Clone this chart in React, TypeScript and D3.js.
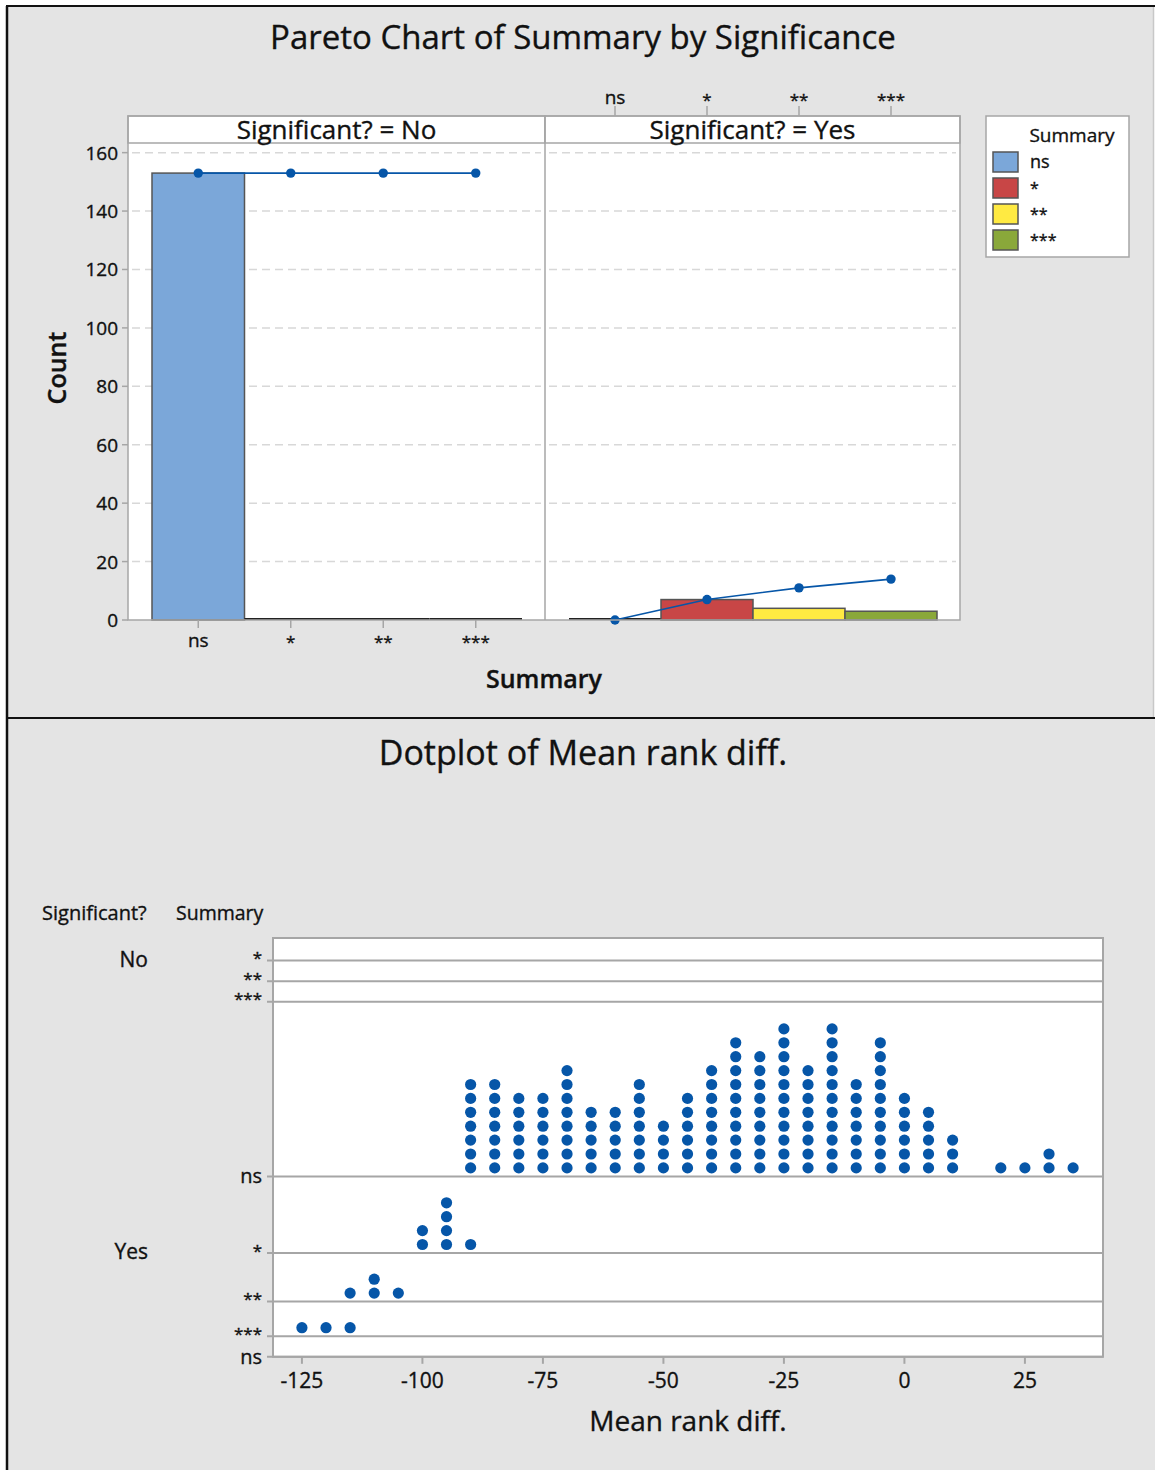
import React from "react";
import * as d3 from "d3";

const categories = ["ns", "*", "**", "***"];
const countsNo = [153, 0, 0, 0];
const countsYes = [0, 7, 4, 3];
const barColors = ["#7ba7d9", "#c84646", "#ffea42", "#8aa83a"];
const yTicks = [0, 20, 40, 60, 80, 100, 120, 140, 160];

// Dotplot bins (bin centre) and dot counts
const noNsBins = [-90, -85, -80, -75, -70, -65, -60, -55, -50, -45, -40, -35, -30, -25, -20, -15, -10, -5, 0, 5, 10, 20, 25, 30, 35];
const noNsCounts = [7, 7, 6, 6, 8, 5, 5, 7, 4, 6, 8, 10, 9, 11, 8, 11, 7, 10, 6, 5, 3, 1, 1, 2, 1];
const yesStarBins = [-100, -95, -90];
const yesStarCounts = [2, 4, 1];
const yesTwoBins = [-115, -110, -105];
const yesTwoCounts = [1, 2, 1];
const yesThreeBins = [-125, -120, -115];
const yesThreeCounts = [1, 1, 1];
const xTicks = [-125, -100, -75, -50, -25, 0, 25];

const FONT = "'Open Sans', 'Noto Sans', sans-serif";
const BG = "#e4e4e4";
const GRID = "#a6a6a6";
const LINE_BLUE = "#0656a8";

type Row = { sig: string; sum: string; bins: number[]; counts: number[] };
const dotRows: Row[] = [
  { sig: "No", sum: "*", bins: [], counts: [] },
  { sig: "No", sum: "**", bins: [], counts: [] },
  { sig: "No", sum: "***", bins: [], counts: [] },
  { sig: "No", sum: "ns", bins: noNsBins, counts: noNsCounts },
  { sig: "Yes", sum: "*", bins: yesStarBins, counts: yesStarCounts },
  { sig: "Yes", sum: "**", bins: yesTwoBins, counts: yesTwoCounts },
  { sig: "Yes", sum: "***", bins: yesThreeBins, counts: yesThreeCounts },
  { sig: "Yes", sum: "ns", bins: [], counts: [] },
];

function catLabelSize(c: string) {
  return c === "ns" ? 19 : 17;
}

function ParetoPanel({ x0, x1, counts, title, topAxis }: { x0: number; x1: number; counts: number[]; title: string; topAxis: boolean }) {
  const y = d3.scaleLinear().domain([0, 163.3]).range([620, 143]);
  const pad = 24;
  const xb = d3.scaleBand<string>().domain(categories).range([x0 + pad, x1 - pad + 1]).padding(0);
  const cum = Array.from(d3.cumsum(counts));
  const line = d3
    .line<number>()
    .x((_, i) => (xb(categories[i]) as number) + xb.bandwidth() / 2)
    .y((v) => y(v));
  return (
    <g>
      <rect x={x0} y={143} width={x1 - x0} height={620 - 143} fill="#fff" />
      <rect x={x0} y={116} width={x1 - x0} height={27} fill="#fff" stroke={GRID} strokeWidth={1.5} />
      <text x={(x0 + x1) / 2} y={138.5} textAnchor="middle" fontSize={26} fontFamily={FONT} fill="#111">
        {title}
      </text>
      {yTicks.filter((t) => t > 0).map((t) => (
        <line key={t} x1={x0 + 4} x2={x1 - 4} y1={y(t)} y2={y(t)} stroke="#d8d8d8" strokeWidth={1.5} strokeDasharray="8,5" />
      ))}
      {categories.map((c, i) => {
        const h = y(0) - y(counts[i]);
        const bx = xb(c) as number;
        return h > 0 ? (
          <rect key={c} x={bx} y={y(counts[i])} width={xb.bandwidth()} height={h} fill={barColors[i]} stroke="#555" strokeWidth={1.5} />
        ) : (
          <line key={c} x1={bx} x2={bx + xb.bandwidth()} y1={y(0) - 1} y2={y(0) - 1} stroke="#222" strokeWidth={2} />
        );
      })}
      <path d={line(cum) || ""} fill="none" stroke={LINE_BLUE} strokeWidth={1.6} />
      {cum.map((v, i) => (
        <circle key={i} cx={(xb(categories[i]) as number) + xb.bandwidth() / 2} cy={y(v)} r={4.7} fill={LINE_BLUE} />
      ))}
      {topAxis
        ? categories.map((c) => {
            const cx = (xb(c) as number) + xb.bandwidth() / 2;
            return (
              <g key={c}>
                <line x1={cx} x2={cx} y1={106} y2={116} stroke={GRID} strokeWidth={1.5} />
                <text x={cx} y={c === "ns" ? 104 : 106} textAnchor="middle" fontSize={catLabelSize(c)} fontFamily={FONT} fill="#111">
                  {c}
                </text>
              </g>
            );
          })
        : categories.map((c) => {
            const cx = (xb(c) as number) + xb.bandwidth() / 2;
            return (
              <g key={c}>
                <line x1={cx} x2={cx} y1={620} y2={628} stroke={GRID} strokeWidth={1.5} />
                <text x={cx} y={c === "ns" ? 647 : 648} textAnchor="middle" fontSize={catLabelSize(c)} fontFamily={FONT} fill="#111">
                  {c}
                </text>
              </g>
            );
          })}
    </g>
  );
}

function Pareto() {
  const y = d3.scaleLinear().domain([0, 163.3]).range([620, 143]);
  return (
    <g>
      <rect x={8} y={7} width={1145} height={711} fill={BG} />
      <text x={583} y={49} textAnchor="middle" fontSize={33} fontFamily={FONT} fill="#111">
        Pareto Chart of Summary by Significance
      </text>
      <ParetoPanel x0={128} x1={545} counts={countsNo} title="Significant? = No" topAxis={false} />
      <ParetoPanel x0={545} x1={960} counts={countsYes} title="Significant? = Yes" topAxis={true} />
      <rect x={128} y={116} width={832} height={504} fill="none" stroke={GRID} strokeWidth={1.5} />
      <line x1={545} x2={545} y1={116} y2={620} stroke={GRID} strokeWidth={1.5} />
      {yTicks.map((t) => (
        <g key={t}>
          <line x1={122} x2={128} y1={y(t)} y2={y(t)} stroke={GRID} strokeWidth={1.5} />
          <text x={118} y={y(t) + 7} textAnchor="end" fontSize={19} fontFamily={FONT} fill="#111">
            {t}
          </text>
        </g>
      ))}
      <text transform="translate(66,368) rotate(-90)" textAnchor="middle" fontSize={25} fontWeight={600} fontFamily={FONT} fill="#111">
        Count
      </text>
      <text x={544} y={688} textAnchor="middle" fontSize={25} fontWeight={600} fontFamily={FONT} fill="#111">
        Summary
      </text>
      {/* legend */}
      <rect x={986} y={116} width={143} height={141} fill="#fff" stroke={GRID} strokeWidth={1.5} />
      <text x={1072} y={142} textAnchor="middle" fontSize={19} fontFamily={FONT} fill="#111">
        Summary
      </text>
      {categories.map((c, i) => (
        <g key={c}>
          <rect x={993} y={152 + i * 26} width={25} height={20} fill={barColors[i]} stroke="#555" strokeWidth={1.5} />
          <text x={1030} y={168 + i * 26} fontSize={catLabelSize(c) - 1} fontFamily={FONT} fill="#111">
            {c}
          </text>
        </g>
      ))}
    </g>
  );
}

function Dotplot() {
  const x = d3.scaleLinear().domain([-131, 41.2]).range([273, 1103]);
  const panelTop = 938;
  const base = 20.6;
  const step = 14;
  let cursor = panelTop + 2;
  const baselines = dotRows.map((r) => {
    const m = r.counts.length ? d3.max(r.counts)! : 0;
    cursor += base + step * m;
    return cursor;
  });
  const panelBottom = baselines[baselines.length - 1];
  const groups = ["No", "Yes"];
  return (
    <g>
      <rect x={8} y={719} width={1147} height={751} fill={BG} />
      <text x={583} y={765} textAnchor="middle" fontSize={34} fontFamily={FONT} fill="#111">
        Dotplot of Mean rank diff.
      </text>
      <text x={42} y={920} fontSize={20} fontFamily={FONT} fill="#111">
        Significant?
      </text>
      <text x={176} y={920} fontSize={19.5} fontFamily={FONT} fill="#111">
        Summary
      </text>
      <rect x={273} y={panelTop} width={830} height={panelBottom - panelTop} fill="#fff" stroke={GRID} strokeWidth={2} />
      {dotRows.map((r, i) => (
        <g key={i}>
          <line x1={267} x2={1103} y1={baselines[i]} y2={baselines[i]} stroke={GRID} strokeWidth={2} />
          <text x={262} y={baselines[i] + (r.sum === "ns" ? 7 : 3.5)} textAnchor="end" fontSize={r.sum === "ns" ? 20 : 17} fontFamily={FONT} fill="#111">
            {r.sum}
          </text>
          {r.bins.map((b, j) =>
            d3.range(r.counts[j]).map((k) => (
              <circle key={`${j}-${k}`} cx={x(b)} cy={baselines[i] - 8.5 - k * 13.9} r={5.6} fill="#0656a8" />
            ))
          )}
        </g>
      ))}
      {groups.map((g) => {
        const idx = dotRows.findIndex((r) => r.sig === g);
        return (
          <text key={g} x={148} y={baselines[idx] + 6} textAnchor="end" fontSize={21} fontFamily={FONT} fill="#111">
            {g}
          </text>
        );
      })}
      {xTicks.map((t) => (
        <g key={t}>
          <line x1={x(t)} x2={x(t)} y1={panelBottom} y2={panelBottom + 7} stroke={GRID} strokeWidth={2} />
          <text x={x(t)} y={1388} textAnchor="middle" fontSize={21} fontFamily={FONT} fill="#111">
            {t}
          </text>
        </g>
      ))}
      <text x={688} y={1431} textAnchor="middle" fontSize={28} fontFamily={FONT} fill="#111">
        Mean rank diff.
      </text>
    </g>
  );
}

export default function App() {
  return (
    <svg width={1155} height={1470} style={{ position: "absolute", left: 0, top: 0, background: "#fff" }}>
      <style>{"text { stroke: #111; stroke-width: 0.35px; }"}</style>
      <Pareto />
      <Dotplot />
      <line x1={6} x2={1155} y1={6} y2={6} stroke="#111" strokeWidth={2} />
      <line x1={7} x2={7} y1={6} y2={1470} stroke="#111" strokeWidth={2.5} />
      <line x1={6} x2={1155} y1={718} y2={718} stroke="#111" strokeWidth={2} />
      <line x1={1153.5} x2={1153.5} y1={7} y2={717} stroke="#c8c8c8" strokeWidth={1.5} />
    </svg>
  );
}
